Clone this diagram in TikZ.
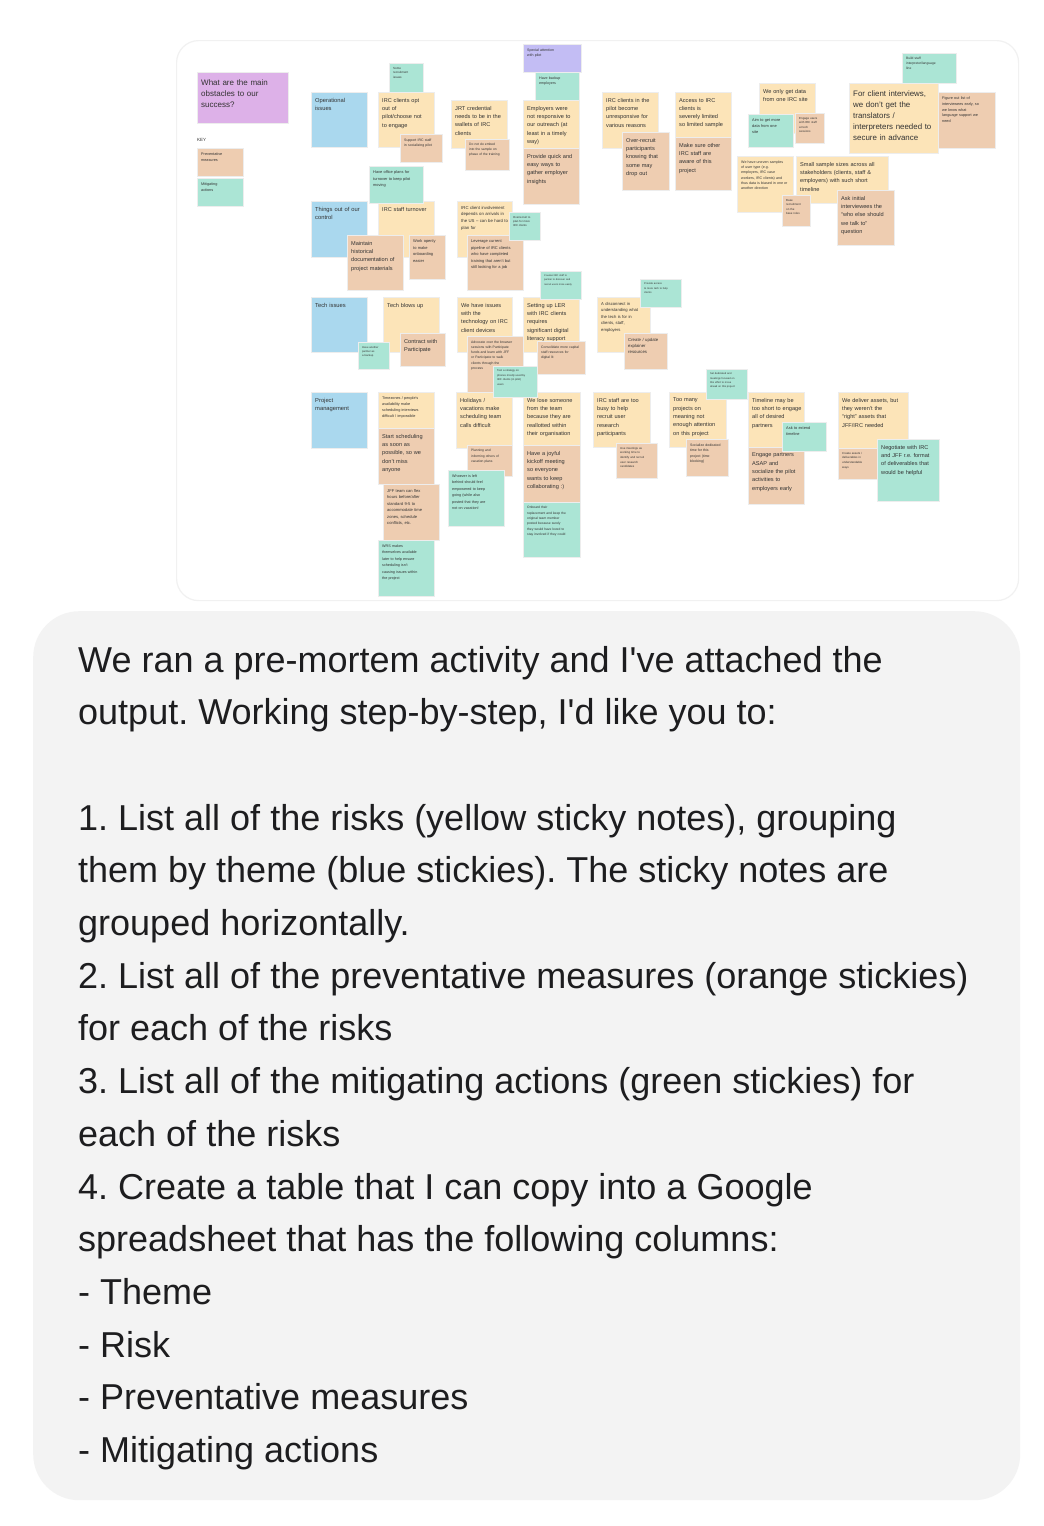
\documentclass[tikz,border=0pt]{standalone}
\usepackage{fontspec}
\setmainfont{Liberation Sans}
\frenchspacing
\definecolor{yel}{HTML}{FCE4B8}
\definecolor{org}{HTML}{EECDB1}
\definecolor{grn}{HTML}{ABE5D5}
\definecolor{blu}{HTML}{AAD8EE}
\definecolor{pur}{HTML}{DDB1E8}
\definecolor{lav}{HTML}{C3BDF4}
\definecolor{chatbg}{HTML}{F3F3F3}
\definecolor{ink}{HTML}{1D1D1F}
\definecolor{stink}{HTML}{333333}
\definecolor{framec}{HTML}{F1F1F1}
\tikzset{
 stickybox/.style={rectangle, draw=black!7, line width=0.4pt, inner sep=0pt, outer sep=0pt, anchor=north west},
 stickytext/.style={anchor=north west, inner sep=0pt, align=left, text=stink},
 chatline/.style={anchor=base west, inner sep=0pt, text=ink, font=\fontsize{36}{44}\selectfont},
}
\newcommand\stk[9]{%
 \pgfmathsetlengthmacro\stkw{#4-6}%
 \node[stickybox, fill=#6, minimum width=#4pt, minimum height=#5pt] (#1) at (#2,#3) {};
 \node[stickytext, text width=\stkw, font=\fontsize{#7}{#8}\selectfont] (#1t) at (#2+4,#3+2+0.7*#7) {#9};
}
\begin{document}
\begin{tikzpicture}[x=1pt,y=-1pt]
\useasboundingbox (0,0) rectangle (1044,1526);
\fill[white] (0,0) rectangle (1044,1526);
% whiteboard frame
\node[rectangle, draw=framec, line width=1.2pt, rounded corners=22pt, minimum width=842pt, minimum height=560pt, anchor=north west, inner sep=0pt] (frame) at (176,40) {};
% title and key
\stk{title}{197}{72}{91}{51}{pur}{8}{11}{What are the main\\obstacles to our\\success?}
\stk{lav}{523}{44}{58}{28}{lav}{3.6}{5.3}{Special attention\\with pilot}
\node[anchor=north west, inner sep=0pt, text=stink, font=\fontsize{4.5}{5.5}\selectfont] (key) at (197,138) {KEY};
\stk{keyo}{197}{148}{46}{28}{org}{3.8}{5.5}{Preventative\\measures}
\stk{keyg}{197}{178}{46}{28}{grn}{3.8}{5.5}{Mitigating\\actions}
% themes
\stk{b1}{311}{92}{56}{55}{blu}{5.8}{8.3}{Operational\\issues}
\stk{b2}{311}{201}{56}{56}{blu}{5.8}{8.3}{Things out of our\\control}
\stk{b3}{311}{297}{56}{55}{blu}{5.8}{8.3}{Tech issues}
\stk{b4}{311}{392}{56}{56}{blu}{5.8}{8.3}{Project\\management}
% risks
\stk{y1}{378}{92}{56}{55}{yel}{5.6}{8.3}{IRC clients opt\\out of\\pilot/choose not\\to engage}
\stk{y2}{451}{100}{56}{48}{yel}{5.6}{8.3}{JRT credential\\needs to be in the\\wallets of IRC\\clients}
\stk{y3}{523}{100}{56}{48}{yel}{5.6}{8.3}{Employers were\\not responsive to\\our outreach (at\\least in a timely\\way)}
\stk{y4}{602}{92}{56}{56}{yel}{5.6}{8.3}{IRC clients in the\\pilot become\\unresponsive for\\various reasons}
\stk{y5}{675}{92}{56}{55}{yel}{5.6}{8.3}{Access to IRC\\clients is\\severely limited\\so limited sample}
\stk{y6}{759}{83}{56}{50}{yel}{5.6}{8.3}{We only get data\\from one IRC site}
\stk{y7}{849}{83}{89}{70}{yel}{7.9}{11}{For client interviews,\\we don’t get the\\translators /\\interpreters needed to\\secure in advance}
\stk{y8}{737}{156}{56}{56}{yel}{3.6}{5.3}{We have uneven samples\\of user type (e.g.\\employers, IRC case\\workers, IRC clients) and\\thus data is biased in one or\\another direction}
\stk{y9}{796}{156}{92}{47}{yel}{5.6}{8.3}{Small sample sizes across all\\stakeholders (clients, staff \&\\employers) with such short\\timeline}
\stk{y10}{378}{201}{56}{56}{yel}{5.6}{8.3}{IRC staff turnover}
\stk{y11}{457}{201}{55}{56}{yel}{4.3}{6.6}{IRC client involvement\\depends on arrivals in\\the US – can be hard to\\plan for}
\stk{y12}{383}{297}{56}{55}{yel}{5.6}{8.3}{Tech blows up}
\stk{y13}{457}{297}{55}{55}{yel}{5.6}{8.3}{We have issues\\with the\\technology on IRC\\client devices}
\stk{y14}{523}{297}{56}{55}{yel}{5.6}{8.3}{Setting up LER\\with IRC clients\\requires\\significant digital\\literacy support}
\stk{y15}{597}{297}{53}{55}{yel}{4.2}{6.6}{A disconnect in\\understanding what\\the tech is for in\\clients, staff,\\employers}
\stk{y16}{378}{392}{56}{36}{yel}{3.8}{6}{Timezones / people’s\\availability make\\scheduling interviews\\difficult / impossible}
\stk{y17}{456}{392}{56}{56}{yel}{5.6}{8.3}{Holidays /\\vacations make\\scheduling team\\calls difficult}
\stk{y18}{523}{392}{57}{53}{yel}{5.6}{8.3}{We lose someone\\from the team\\because they are\\reallotted within\\their organisation}
\stk{y19}{593}{392}{57}{55}{yel}{5.6}{8.3}{IRC staff are too\\busy to help\\recruit user\\research\\participants}
\stk{y20}{669}{392}{57}{55}{yel}{5.6}{8.3}{Too many\\projects on\\meaning not\\enough attention\\on this project}
\stk{y21}{748}{392}{56}{55}{yel}{5.6}{8.3}{Timeline may be\\too short to engage\\all of desired\\partners}
\stk{y22}{838}{392}{70}{56}{yel}{5.6}{8.3}{We deliver assets, but\\they weren’t the\\“right” assets that\\JFF/IRC needed}
% preventative measures
\stk{o1}{400}{134}{42}{28}{org}{3.5}{5.2}{Support IRC staff\\in socializing pilot}
\stk{o2}{465}{139}{44}{31}{org}{3.3}{5}{Do not do embed\\into the sample on\\phase of the training}
\stk{o3}{523}{148}{56}{56}{org}{5.6}{8.3}{Provide quick and\\easy ways to\\gather employer\\insights}
\stk{o4}{622}{132}{47}{58}{org}{5.6}{8.3}{Over-recruit\\participants\\knowing that\\some may\\drop out}
\stk{o5}{675}{137}{56}{53}{org}{5.6}{8.3}{Make sure other\\IRC staff are\\aware of this\\project}
\stk{o6}{795}{113}{29}{30}{org}{2.9}{4.4}{Engage users\\with IRC staff\\at tech\\sessions}
\stk{o7}{938}{92}{57}{56}{org}{3.8}{5.7}{Figure out list of\\interviewees early, so\\we know what\\language support we\\need}
\stk{o8}{782}{195}{28}{31}{org}{2.9}{4.4}{Base\\recruitment\\on the\\base roles}
\stk{o9}{837}{190}{57}{55}{org}{5.6}{8.3}{Ask initial\\interviewees the\\“who else should\\we talk to”\\question}
\stk{o10}{347}{235}{56}{55}{org}{5.6}{8.3}{Maintain\\historical\\documentation of\\project materials}
\stk{o11}{409}{235}{36}{44}{org}{4}{6.4}{Work openly\\to make\\onboarding\\easier}
\stk{o12}{467}{235}{56}{55}{org}{4}{6.5}{Leverage current\\pipeline of IRC clients\\who have completed\\training that aren’t but\\still looking for a job}
\stk{o13}{400}{333}{45}{33}{org}{5.6}{8.3}{Contract with\\Participate}
\stk{o14}{467}{336}{56}{56}{org}{3.4}{5.3}{Advocate over the browser\\sessions with Participate\\funds and learn with JFF\\or Participate to walk\\clients through the\\process}
\stk{o15}{537}{341}{48}{33}{org}{3.4}{5.3}{Consolidate more capital\\staff resources for\\digital lit}
\stk{o16}{624}{333}{43}{36}{org}{4.3}{6.3}{Create / update\\explainer\\resources}
\stk{o17}{378}{428}{56}{56}{org}{5.6}{8.3}{Start scheduling\\as soon as\\possible, so we\\don’t miss\\anyone}
\stk{o18}{383}{484}{56}{56}{org}{4.1}{6.5}{JFF team can flex\\hours before/after\\standard 9-5 to\\accommodate time\\zones, schedule\\conflicts, etc.}
\stk{o19}{467}{445}{45}{31}{org}{3.3}{5.3}{Planning and\\informing others of\\vacation plans}
\stk{o20}{523}{445}{57}{57}{org}{5.6}{8.3}{Have a joyful\\kickoff meeting\\so everyone\\wants to keep\\collaborating :)}
\stk{o21}{616}{443}{41}{35}{org}{2.9}{4.6}{Use meetings as\\working time to\\identify and recruit\\user research\\candidates}
\stk{o22}{686}{439}{42}{37}{org}{3.5}{5.5}{Socialize dedicated\\time for this\\project (time\\blocking)}
\stk{o23}{748}{447}{56}{57}{org}{5.6}{8.3}{Engage partners\\ASAP and\\socialize the pilot\\activities to\\employers early}
\stk{o24}{838}{448}{40}{31}{org}{2.9}{4.6}{Create assets /\\deliverables in\\understandable\\ways}
% mitigating actions
\stk{g1}{389}{63}{34}{29}{grn}{3}{4.6}{Some\\recruitment\\issues}
\stk{g2}{535}{72}{44}{28}{grn}{3.6}{5.5}{Have backup\\employers}
\stk{g3}{369}{166}{54}{37}{grn}{3.9}{6.5}{Have office plans for\\turnover to keep pilot\\moving}
\stk{g4}{748}{114}{45}{33}{grn}{3.9}{6}{Aim to get more\\data from one\\site}
\stk{g5}{902}{53}{54}{30}{grn}{3.3}{5}{Build staff\\interpreter/language\\line}
\stk{g6}{509}{212}{31}{28}{grn}{2.8}{4.3}{Overrecruit to\\plan for more\\IRC clients}
\stk{g7}{540}{271}{41}{28}{grn}{2.5}{4.2}{Counsel IRC staff to\\partner to discover and\\recruit users more easily}
\stk{g8}{640}{279}{41}{28}{grn}{2.6}{4.3}{Provide access\\to more tech to help\\clients}
\stk{g9}{358}{342}{31}{27}{grn}{2.7}{4.3}{Have another\\partner as\\a backup}
\stk{g10}{493}{366}{44}{31}{grn}{2.7}{4.4}{Test a strategy on\\phones mostly used by\\IRC clients (in pilot)\\users}
\stk{g11}{448}{470}{56}{56}{grn}{3.7}{6.4}{Whoever is left\\behind should feel\\empowered to keep\\going (while also\\posted that they are\\not on vacation!}
\stk{g12}{378}{540}{56}{56}{grn}{3.7}{6.4}{WRS makes\\themselves available\\later to help ensure\\scheduling isn’t\\causing issues within\\the project}
\stk{g13}{523}{502}{57}{55}{grn}{3.3}{5.3}{Onboard their\\replacement and keep the\\original team member\\posted because surely\\they would have loved to\\stay involved if they could}
\stk{g14}{706}{369}{41}{30}{grn}{2.6}{4.3}{Set dedicated and\\meetings focused on\\this effort to move\\ahead on this project}
\stk{g15}{782}{422}{44}{29}{grn}{3.9}{6}{Ask to extend\\timeline}
\stk{g16}{877}{439}{62}{62}{grn}{5.6}{8.3}{Negotiate with IRC\\and JFF r.e. format\\of deliverables that\\would be helpful}
% chat bubble
\node[rectangle, fill=chatbg, rounded corners=46pt, minimum width=987pt, minimum height=889pt, anchor=north west, inner sep=0pt] (chat) at (33,611) {};
\node[chatline] (c1) at (78,672) {We ran a pre-mortem activity and I\textquotesingle ve attached the};
\node[chatline] (c2) at (78,724.7) {output. Working step-by-step, I\textquotesingle d like you to:};
\node[chatline] (c4) at (78,830.1) {1. List all of the risks (yellow sticky notes), grouping};
\node[chatline] (c5) at (78,882.8) {them by theme (blue stickies). The sticky notes are};
\node[chatline] (c6) at (78,935.5) {grouped horizontally.};
\node[chatline] (c7) at (78,988.2) {2. List all of the preventative measures (orange stickies)};
\node[chatline] (c8) at (78,1040.9) {for each of the risks};
\node[chatline] (c9) at (78,1093.6) {3. List all of the mitigating actions (green stickies) for};
\node[chatline] (c10) at (78,1146.3) {each of the risks};
\node[chatline] (c11) at (78,1199) {4. Create a table that I can copy into a Google};
\node[chatline] (c12) at (78,1251.7) {spreadsheet that has the following columns:};
\node[chatline] (c13) at (78,1304.4) {- Theme};
\node[chatline] (c14) at (78,1357.1) {- Risk};
\node[chatline] (c15) at (78,1409.8) {- Preventative measures};
\node[chatline] (c16) at (78,1462.5) {- Mitigating actions};
\end{tikzpicture}
\end{document}
